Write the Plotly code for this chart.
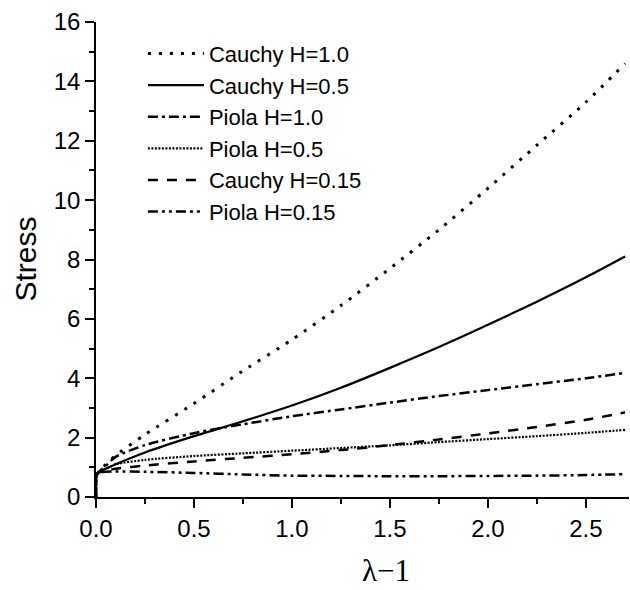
import plotly.graph_objects as go

x = [0.0, 0.004, 0.015, 0.05, 0.1, 0.25, 0.5, 0.75, 1.0, 1.25, 1.5, 1.75, 2.0, 2.25, 2.5, 2.7]

cauchy_h10 = [0.0, 0.75, 0.85, 1.1, 1.4, 2.1, 3.15, 4.25, 5.3, 6.45, 7.7, 9.0, 10.4, 11.85, 13.3, 14.6]
cauchy_h05 = [0.0, 0.75, 0.85, 0.95, 1.1, 1.5, 2.05, 2.55, 3.08, 3.68, 4.35, 5.05, 5.8, 6.58, 7.4, 8.1]
piola_h10 = [0.0, 0.75, 0.85, 1.05, 1.35, 1.75, 2.15, 2.45, 2.72, 2.95, 3.18, 3.4, 3.6, 3.8, 4.0, 4.18]
piola_h05 = [0.0, 0.75, 0.85, 0.95, 1.1, 1.25, 1.38, 1.47, 1.56, 1.65, 1.74, 1.85, 1.95, 2.05, 2.16, 2.26]
cauchy_h015 = [0.0, 0.75, 0.82, 0.88, 0.95, 1.06, 1.2, 1.32, 1.44, 1.58, 1.75, 1.94, 2.14, 2.36, 2.6, 2.85]
piola_h015 = [0.0, 0.75, 0.82, 0.85, 0.86, 0.85, 0.81, 0.76, 0.72, 0.71, 0.7, 0.7, 0.71, 0.72, 0.74, 0.77]

series = [
    ("Cauchy H=1.0", cauchy_h10, "3px,8px", 3),
    ("Cauchy H=0.5", cauchy_h05, "solid", 2.2),
    ("Piola H=1.0", piola_h10, "10px,4px,3px,4px", 2.5),
    ("Piola H=0.5", piola_h05, "2px,1.5px", 2.2),
    ("Cauchy H=0.15", cauchy_h015, "10px,9px", 2.5),
    ("Piola H=0.15", piola_h015, "10px,4px,3px,4px,3px,4px", 2.5),
]

fig = go.Figure()
for name, y, dash, w in series:
    fig.add_trace(go.Scatter(x=x, y=y, mode="lines", name=name,
                             line=dict(color="black", dash=dash, width=w, shape="spline", smoothing=0.7)))

tick_font = dict(family="Liberation Sans, Arial", size=24, color="black")
axis_common = dict(showgrid=False, zeroline=False, showline=True, linecolor="black", linewidth=1.5,
                   ticks="outside", ticklen=9, tickwidth=1.5, tickcolor="black", tickfont=tick_font)

fig.update_xaxes(range=[0, 2.72], tickmode="array", tickvals=[0, 0.5, 1.0, 1.5, 2.0, 2.5],
                 ticktext=["0.0", "0.5", "1.0", "1.5", "2.0", "2.5"],
                 minor=dict(dtick=0.25, tick0=0, ticks="outside", ticklen=5, tickwidth=1.5, tickcolor="black"),
                 **axis_common)
fig.update_yaxes(range=[0, 16], tickmode="array", tickvals=list(range(0, 17, 2)),
                 minor=dict(dtick=1, tick0=0, ticks="outside", ticklen=5, tickwidth=1.5, tickcolor="black"),
                 **axis_common)

fig.add_annotation(text="Stress", xref="paper", yref="paper", x=(25 - 96) / 533, y=0.5,
                   xanchor="center", yanchor="middle", textangle=-90, showarrow=False,
                   font=dict(family="Liberation Sans, Arial", size=30, color="black"))
fig.add_annotation(text="λ−1", xref="paper", yref="paper", x=(386 - 96) / 533, y=(497 - 570) / 475,
                   xanchor="center", yanchor="middle", showarrow=False,
                   font=dict(family="Liberation Serif, Times New Roman", size=31, color="black"))

fig.update_layout(
    width=630, height=590,
    margin=dict(l=96, r=1, t=22, b=93),
    plot_bgcolor="white", paper_bgcolor="white",
    legend=dict(x=0.088, y=0.9775, xanchor="left", yanchor="top", itemwidth=56,
                font=dict(family="Liberation Sans, Arial", size=22, color="black"),
                bgcolor="rgba(0,0,0,0)", tracegroupgap=0),
)

fig.write_html("out.html")
